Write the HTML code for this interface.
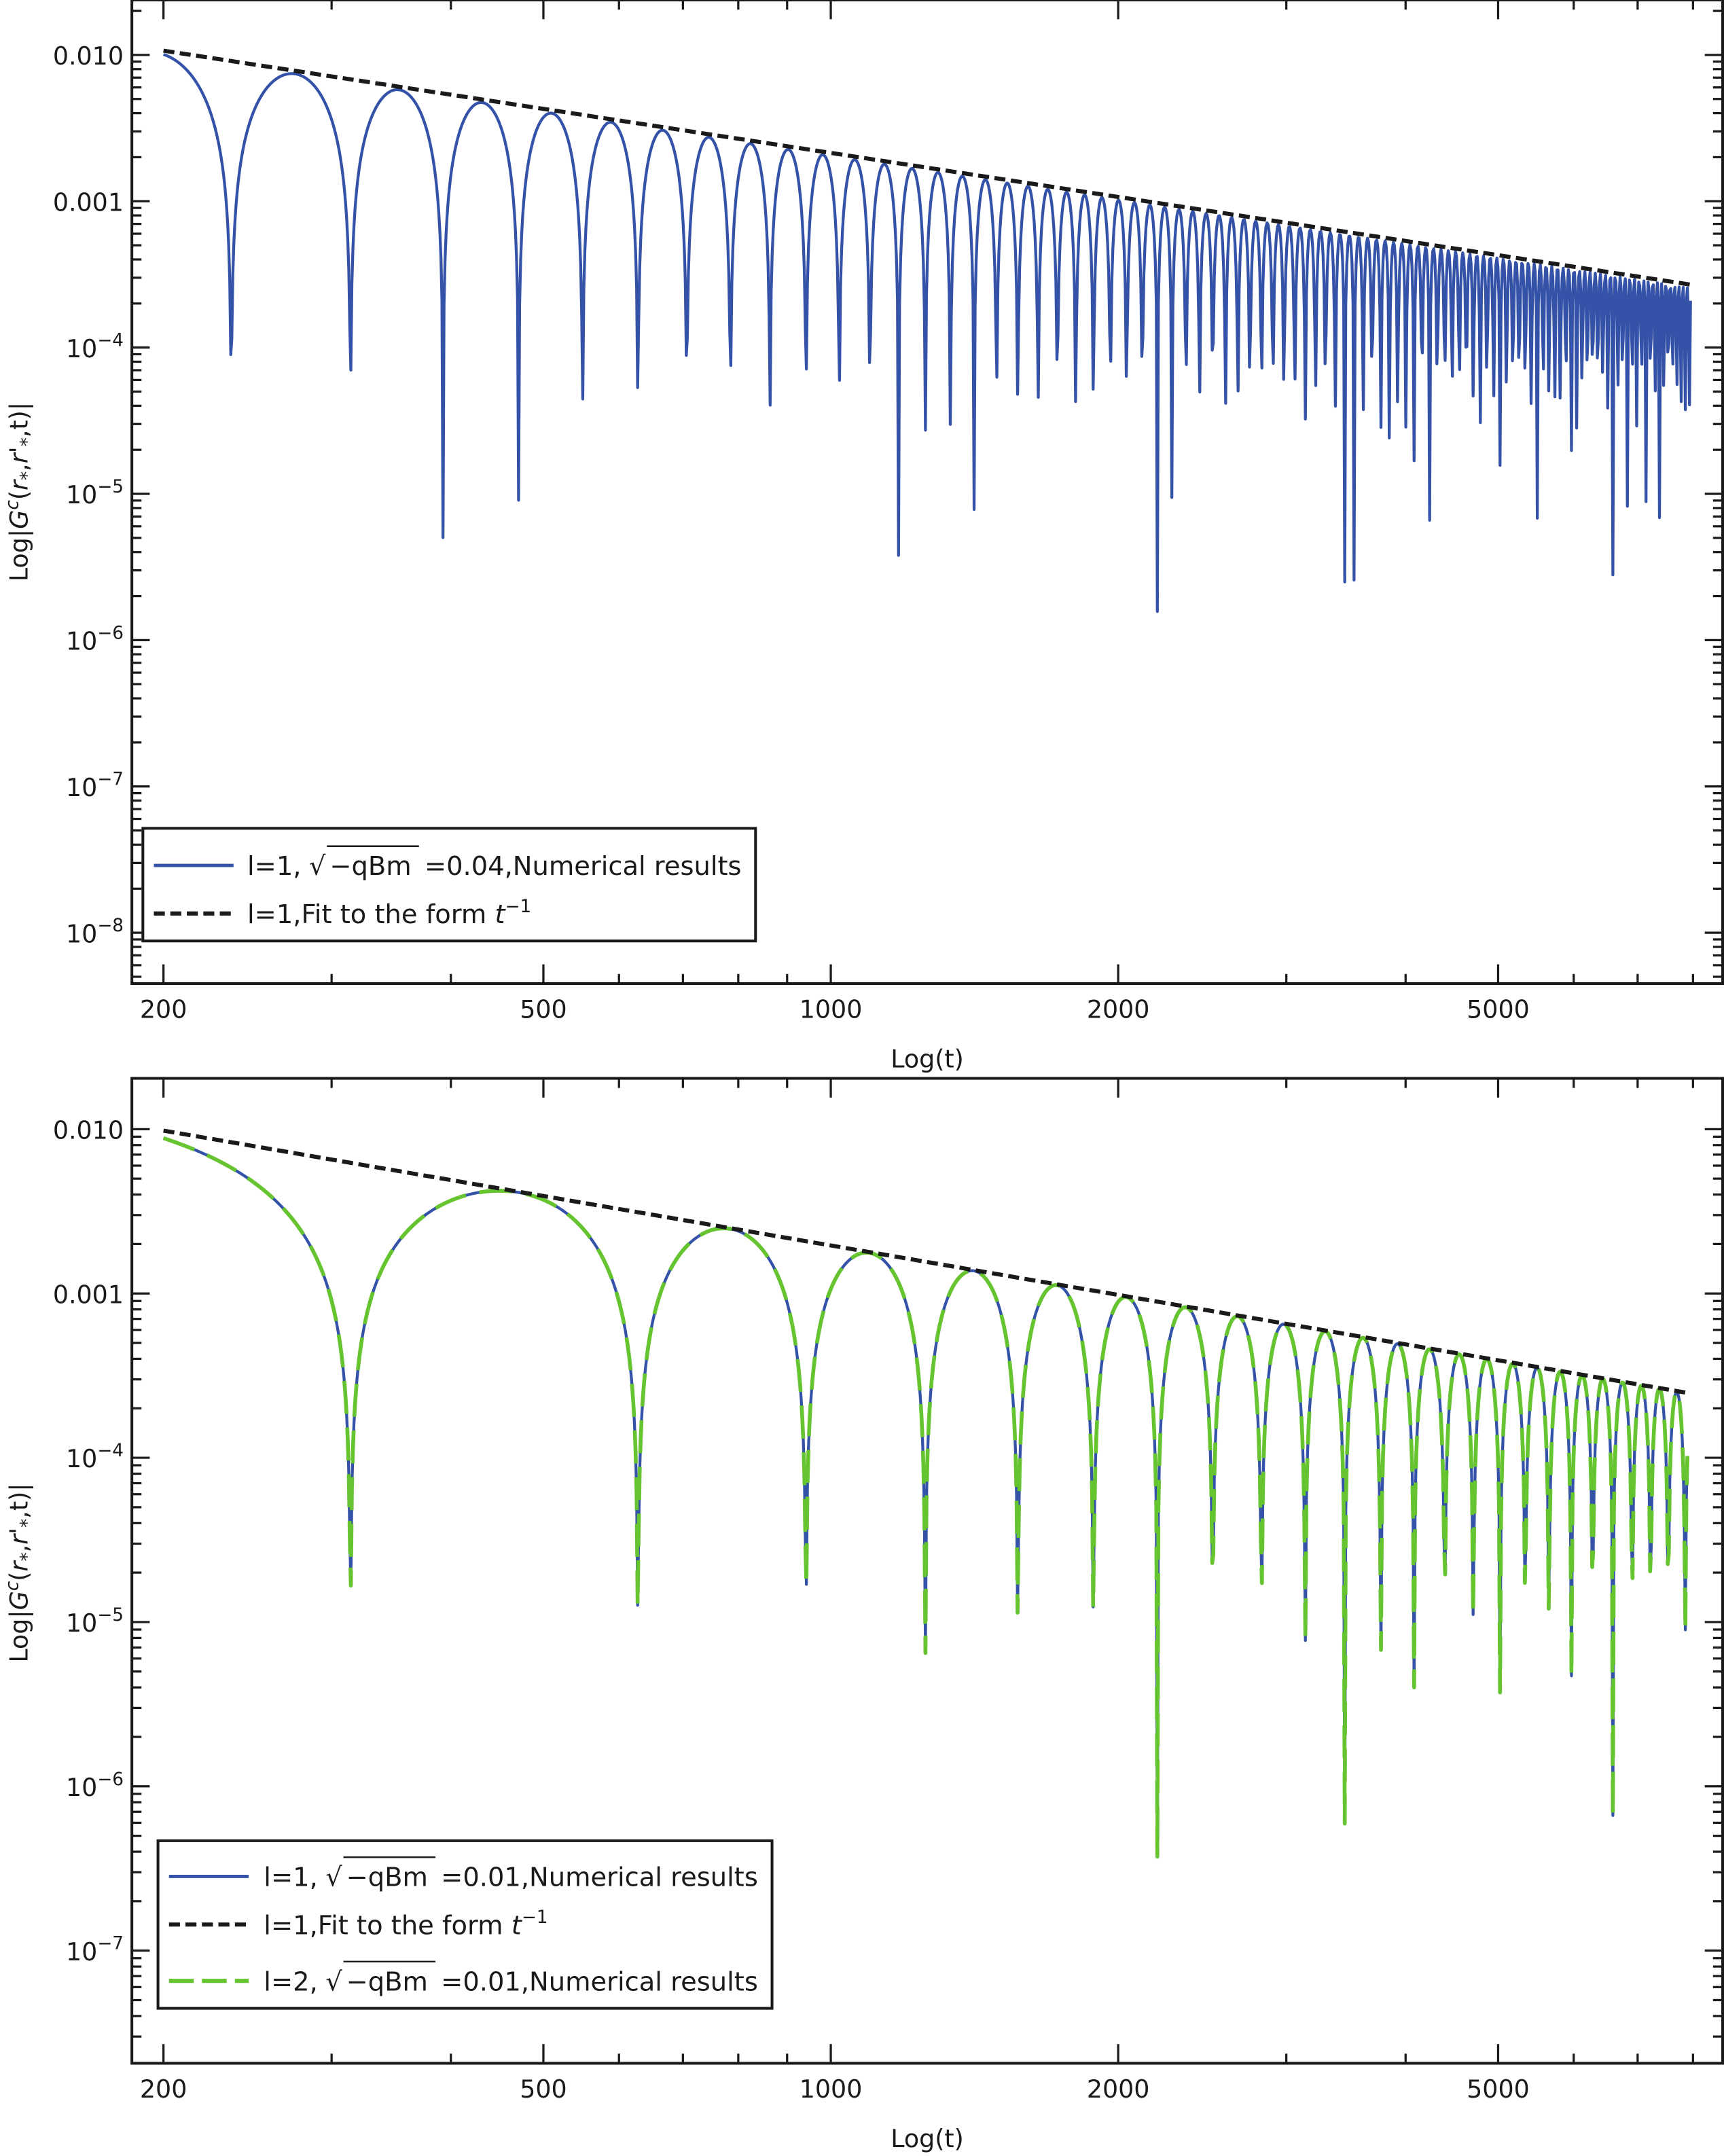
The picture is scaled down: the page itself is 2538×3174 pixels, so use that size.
<!DOCTYPE html>
<html><head><meta charset="utf-8"><style>
html,body{margin:0;padding:0;background:#fff;}
svg{display:block;}
text{font-family:"DejaVu Sans","Liberation Sans",sans-serif;fill:#1a1a1a;}
</style></head><body>
<svg id="s" xmlns="http://www.w3.org/2000/svg" width="2538" height="3174" viewBox="0 0 1255 1569.5" preserveAspectRatio="none">
<rect width="1255" height="1570" fill="#fff"/>
<defs>
<clipPath id="c1"><rect x="96" y="0" width="1158" height="716"/></clipPath>
<clipPath id="c2"><rect x="96" y="785" width="1158" height="717"/></clipPath>
</defs>
<g id="g"></g>
</svg>
<script>
const NS="http://www.w3.org/2000/svg";
const g=document.getElementById('g');
function el(tag,attrs,parent,txt){const e=document.createElementNS(NS,tag);for(const k in attrs)e.setAttribute(k,attrs[k]);if(txt!==undefined)e.textContent=txt;(parent||g).appendChild(e);return e;}
const X=t=>119+695*Math.log10(t/200);
function panel(top,bot,y0,dec,labels,xlabY,ylabCy){
  el('rect',{x:96,y:top,width:1158,height:bot-top,fill:'none',stroke:'#1a1a1a','stroke-width':2});
  const Y=v=>y0-dec*(Math.log10(v)+2);
  for(let e=-9;e<=-1;e++){
    for(let m=1;m<=9;m++){
      const v=m*Math.pow(10,e);const y=Y(v);
      if(y<top+1||y>bot-1)continue;
      const L=m==1?13:7;
      el('line',{x1:96,y1:y,x2:96+L,y2:y,stroke:'#1a1a1a','stroke-width':1.6});
      el('line',{x1:1254,y1:y,x2:1254-L,y2:y,stroke:'#1a1a1a','stroke-width':1.6});
    }
  }
  labels.forEach((lab,i)=>{
    const y=Y(Math.pow(10,-2-i))+7;
    if(i<2){el('text',{x:90,y:y,'font-size':18,'text-anchor':'end'},g,lab);}
    else{const t=el('text',{x:90,y:y,'font-size':18,'text-anchor':'end'});
      el('tspan',{},t,'10');el('tspan',{dy:-8,'font-size':13},t,'−'+(i+2));}
  });
  const xt=[200,300,400,500,600,700,800,900,1000,2000,3000,4000,5000,6000,7000,8000];
  xt.forEach(t=>{const x=X(t);const maj=[200,500,1000,2000,5000].includes(t);const L=maj?14:7;
    el('line',{x1:x,y1:bot,x2:x,y2:bot-L,stroke:'#1a1a1a','stroke-width':1.6});
    el('line',{x1:x,y1:top,x2:x,y2:top+L,stroke:'#1a1a1a','stroke-width':1.6});
    if(maj)el('text',{x:x,y:bot+25,'font-size':18,'text-anchor':'middle'},g,String(t));
  });
  el('text',{x:675,y:xlabY,'font-size':18,'text-anchor':'middle'},g,'Log(t)');
  const yl=el('text',{x:0,y:0,'font-size':18,'text-anchor':'middle',transform:`translate(20,${ylabCy}) rotate(-90)`});
  el('tspan',{},yl,'Log|');el('tspan',{'font-style':'italic'},yl,'G');el('tspan',{dy:-7,'font-size':13,'font-style':'italic'},yl,'c');
  el('tspan',{dy:7},yl,'(');el('tspan',{'font-style':'italic'},yl,'r');el('tspan',{dy:4,'font-size':13},yl,'*');
  el('tspan',{dy:-4},yl,',');el('tspan',{'font-style':'italic'},yl,"r'");el('tspan',{dy:4,'font-size':13},yl,'*');
  el('tspan',{dy:-4},yl,',t)|');
  return Y;
}
function curve(Y,A,per,tEnd,clip,attrs){
  let d='';let t=200;let k=0;
  while(t<=tEnd){
    const v=Math.max(A*200/t*Math.abs(Math.sin(Math.PI*t/per)),1e-10);
    const x=X(t),y=Y(v);
    d+=(k?'L':'M')+x.toFixed(2)+' '+y.toFixed(2);
    k++; t*=1.0025;
  }
  const a=Object.assign({d:d,fill:'none','clip-path':`url(#${clip})`,'stroke-linejoin':'round'},attrs);
  el('path',a);
}
function fit(Y,A,tEnd,clip){
  el('line',{x1:X(200),y1:Y(A),x2:X(tEnd),y2:Y(A*200/tEnd),stroke:'#1a1a1a','stroke-width':3,'stroke-dasharray':'8 4','clip-path':`url(#${clip})`});
}
const Y1=panel(0,716,40,106.5,['0.010','0.001','','','','',''],777,358);
curve(Y1,0.0102,78.5,7960,'c1',{stroke:'#3452a8','stroke-width':2.1});
fit(Y1,0.0107,8000,'c1');
const Y2=panel(785,1502,822,119.6,['0.010','0.001','','','',''],1563,1145);
curve(Y2,0.0097,314,7900,'c2',{stroke:'#3452a8','stroke-width':2.1});
curve(Y2,0.0097,314,7900,'c2',{stroke:'#66c430','stroke-width':2.8,'stroke-dasharray':'24 10'});
fit(Y2,0.0098,7950,'c2');
function leg(x,y,w,h,entries,tx){
  el('rect',{x:x,y:y,width:w,height:h,fill:'#fff',stroke:'#1a1a1a','stroke-width':2});
  entries.forEach(en=>{
    el('line',Object.assign({x1:x+8,y1:en.y,x2:x+66,y2:en.y},en.ls));
    if(en.sq){
      el('text',{x:tx,y:en.y+7,'font-size':19},g,'l='+en.l+',');
      el('text',{x:tx+45,y:en.y+7,'font-size':19},g,'√');
      el('text',{x:tx+60,y:en.y+7,'font-size':19},g,'−qBm');
      el('line',{x1:tx+58,y1:en.y-14,x2:tx+125,y2:en.y-14,stroke:'#1a1a1a','stroke-width':1.2});
      el('text',{x:tx+129,y:en.y+7,'font-size':19},g,en.rest);
    } else {
      const t=el('text',{x:tx,y:en.y+7,'font-size':19});
      el('tspan',{},t,'l=1,Fit to the form ');el('tspan',{'font-style':'italic'},t,'t');el('tspan',{dy:-8,'font-size':13},t,'−1');
    }
  });
}
const blue={stroke:'#3452a8','stroke-width':2.4};
const blk={stroke:'#1a1a1a','stroke-width':3,'stroke-dasharray':'8 4'};
const grn={stroke:'#66c430','stroke-width':3,'stroke-dasharray':'18 6'};
leg(104,603,446,82,[{y:630,ls:blue,sq:1,l:'1',rest:'=0.04,Numerical results'},{y:665,ls:blk}],180);
leg(115,1340,447,122,[{y:1366,ls:blue,sq:1,l:'1',rest:'=0.01,Numerical results'},{y:1401,ls:blk},{y:1442,ls:grn,sq:1,l:'2',rest:'=0.01,Numerical results'}],192);
</script>
</body></html>
